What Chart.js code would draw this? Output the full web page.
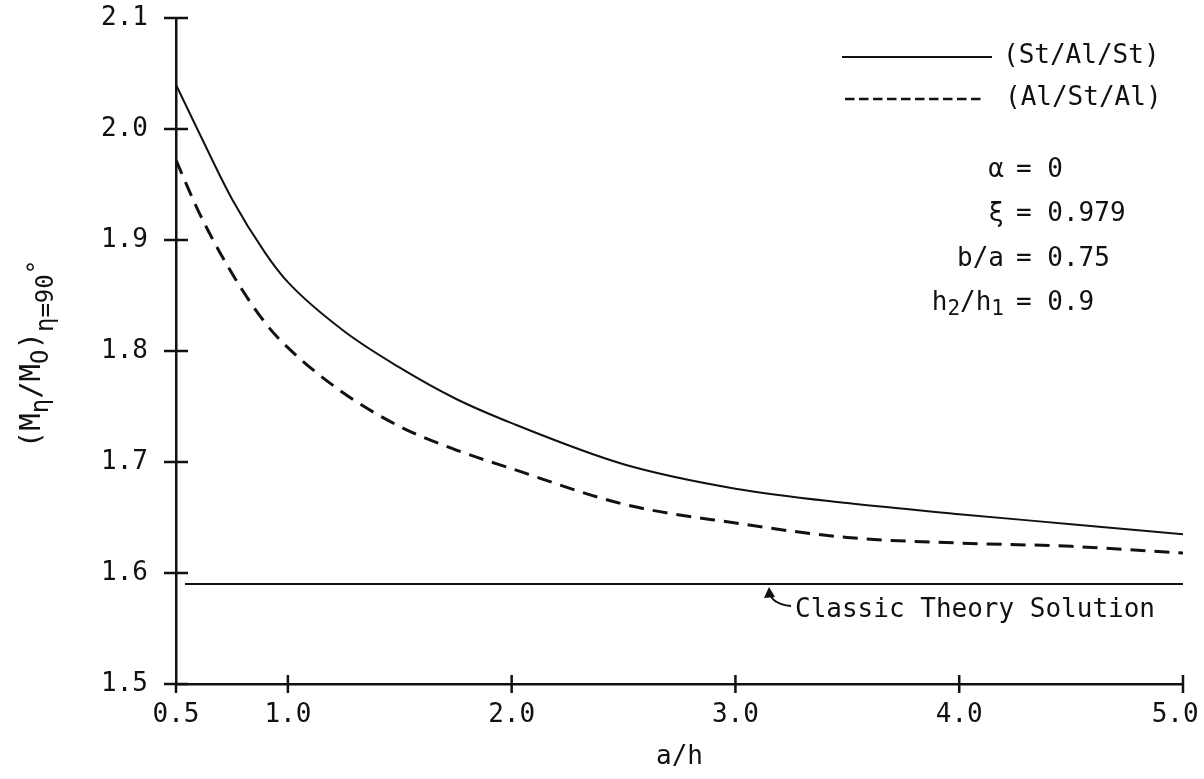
<!DOCTYPE html>
<html>
<head>
<meta charset="utf-8">
<script src="https://cdn.jsdelivr.net/npm/chart.js@4"></script>
<style>
  html, body { margin: 0; padding: 0; background: #fff; }
  canvas { display: block; }
</style>
</head>
<body>
<canvas id="myChart" width="1204" height="779"></canvas>
<script>
// a/h values where both curves were sampled
const aOverH = [0.5, 0.6, 0.75, 0.9, 1.0, 1.25, 1.5, 1.75, 2.0, 2.5, 3.0, 3.5, 4.0, 4.5, 5.0];
// (St/Al/St) laminate, solid line
const stAlSt = [2.040, 1.998, 1.937, 1.888, 1.862, 1.818, 1.785, 1.757, 1.735, 1.698, 1.676, 1.663, 1.653, 1.644, 1.635];
// (Al/St/Al) laminate, dashed line
const alStAl = [1.972, 1.926, 1.870, 1.825, 1.803, 1.762, 1.732, 1.711, 1.694, 1.662, 1.645, 1.632, 1.627, 1.624, 1.618];
// classic theory, constant
const classicX = [0.54, 5.0];
const classicY = [1.59, 1.59];

const xTicks = [0.5, 1.0, 2.0, 3.0, 4.0, 5.0];
const yTicks = [1.5, 1.6, 1.7, 1.8, 1.9, 2.0, 2.1];

const FONT = '"DejaVu Sans Mono", "Liberation Mono", monospace';
const INK = '#111';

function pts(xs, ys) {
  return xs.map((x, i) => ({ x: x, y: ys[i] }));
}

// draws text pieces [text, font, dy] one after another from x
function runWidth(c, parts) {
  let w = 0;
  parts.forEach(p => { c.font = p[1]; w += c.measureText(p[0]).width; });
  return w;
}
function drawRun(c, parts, x, y) {
  parts.forEach(p => {
    c.font = p[1];
    c.fillText(p[0], x, y + (p[2] || 0));
    x += c.measureText(p[0]).width;
  });
}

// cross ticks, axis titles, key and labels
const extras = {
  id: 'extras',
  afterDraw(chart) {
    const c = chart.ctx;
    const xs = chart.scales.x, ys = chart.scales.y;
    const x0 = xs.getPixelForValue(0.5), yb = ys.getPixelForValue(1.5);
    const big = '26px ' + FONT, small = '21px ' + FONT;
    c.save();
    c.strokeStyle = INK;
    c.fillStyle = INK;
    c.lineWidth = 2.5;
    c.beginPath();
    yTicks.forEach(v => {
      const y = ys.getPixelForValue(v);
      c.moveTo(x0 - 12, y); c.lineTo(x0 + 12, y);
    });
    xTicks.forEach(v => {
      const x = xs.getPixelForValue(v);
      c.moveTo(x, v === 0.5 ? yb : yb - 9); c.lineTo(x, yb + 9);
    });
    c.stroke();

    // y title with sub/superscripts, rotated
    c.save();
    c.translate(31, 354);
    c.rotate(-Math.PI / 2);
    c.textBaseline = 'alphabetic';
    const tBig = '29px ' + FONT, tSmall = '24px ' + FONT;
    const yTitle = [
      ['(M', tBig, 0], ['η', tSmall, 8], ['/M', tBig, 0], ['O', tSmall, 8],
      [')', tBig, 0], ['η=90', tSmall, 13], ['°', tSmall, 5]
    ];
    drawRun(c, yTitle, -runWidth(c, yTitle) / 2, 9);
    c.restore();

    // key
    c.lineWidth = 2;
    c.beginPath(); c.moveTo(842, 57); c.lineTo(992, 57); c.stroke();
    c.lineWidth = 2.5;
    c.setLineDash([9.5, 4.5]);
    c.beginPath(); c.moveTo(845, 99); c.lineTo(982, 99); c.stroke();
    c.setLineDash([]);
    c.font = big;
    c.textBaseline = 'middle';
    c.textAlign = 'left';
    c.fillText('(St/Al/St)', 1003, 56);
    c.fillText('(Al/St/Al)', 1005, 98);

    // parameters, '=' aligned
    const eqX = 1016;
    const rows = [
      [['α', big]], [['ξ', big]], [['b/a', big]],
      [['h', big], ['2', small, 6], ['/h', big], ['1', small, 6]]
    ];
    const vals = ['= 0', '= 0.979', '= 0.75', '= 0.9'];
    rows.forEach((r, i) => {
      const y = 170 + i * 44.5;
      drawRun(c, r, eqX - 12 - runWidth(c, r), y);
      c.font = big;
      c.fillText(vals[i], eqX, y);
    });

    // classic theory label with hooked arrow
    c.font = big;
    c.fillText('Classic Theory Solution', 795, 610);
    c.lineWidth = 2;
    c.beginPath();
    c.moveTo(791, 606);
    c.quadraticCurveTo(771, 604, 770, 592);
    c.stroke();
    c.beginPath();
    c.moveTo(769, 587); c.lineTo(764, 598); c.lineTo(775, 597); c.closePath();
    c.fill();
    c.restore();
  }
};

const ctx = document.getElementById('myChart');
new Chart(ctx, {
  type: 'line',
  data: {
    datasets: [{
      label: '(St/Al/St)',
      data: pts(aOverH, stAlSt),
      borderColor: INK,
      borderWidth: 2,
      pointRadius: 0,
      cubicInterpolationMode: 'monotone'
    }, {
      label: '(Al/St/Al)',
      data: pts(aOverH, alStAl),
      borderColor: INK,
      borderWidth: 3,
      borderDash: [15, 9],
      pointRadius: 0,
      cubicInterpolationMode: 'monotone'
    }, {
      label: 'Classic Theory Solution',
      data: pts(classicX, classicY),
      borderColor: INK,
      borderWidth: 2,
      pointRadius: 0
    }]
  },
  options: {
    responsive: false,
    animation: false,
    layout: { padding: { top: 18, right: 21, left: 0, bottom: 0 } },
    plugins: { legend: { display: false }, tooltip: { enabled: false } },
    scales: {
      x: {
        type: 'linear',
        min: 0.5,
        max: 5.0,
        afterBuildTicks: s => { s.ticks = xTicks.map(v => ({ value: v })); },
        afterFit: s => { s.height = 95; s.paddingLeft = 0; s.paddingRight = 0; },
        grid: { display: false, drawTicks: false },
        border: { display: true, color: INK, width: 2.5 },
        ticks: {
          padding: 16,
          color: INK,
          font: { family: FONT, size: 26 },
          // last label sits a little inside the page edge
          callback: v => v === 5 ? v.toFixed(1) + '\u00a0' : v.toFixed(1),
          maxRotation: 0
        },
        title: {
          display: true,
          text: 'a/h',
          color: INK,
          font: { family: FONT, size: 26 },
          padding: { top: 4, bottom: 6 }
        }
      },
      y: {
        min: 1.5,
        max: 2.1,
        afterBuildTicks: s => { s.ticks = yTicks.map(v => ({ value: v })); },
        afterFit: s => { s.width = 176; s.paddingTop = 0; s.paddingBottom = 0; },
        grid: { display: false, drawTicks: false },
        border: { display: true, color: INK, width: 2.5 },
        ticks: {
          padding: 28,
          color: INK,
          font: { family: FONT, size: 26 },
          callback: v => v.toFixed(1)
        }
      }
    }
  },
  plugins: [extras]
});
</script>
</body>
</html>
